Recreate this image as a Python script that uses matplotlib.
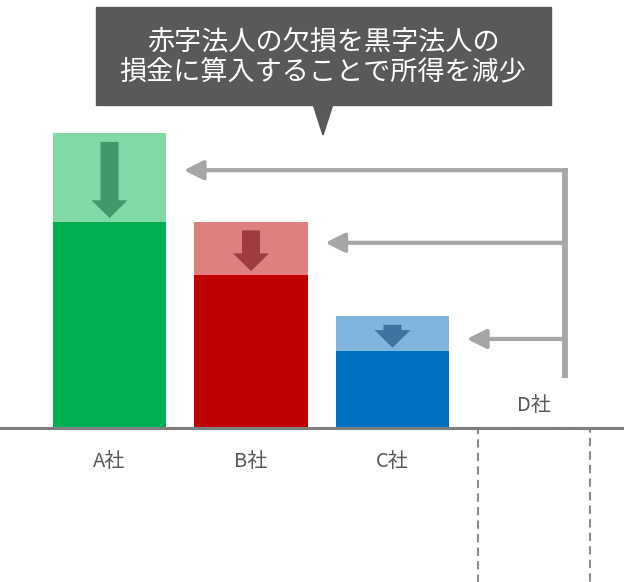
import matplotlib.pyplot as plt
from matplotlib.patches import Rectangle, Polygon
import numpy as np

plt.rcParams['font.family'] = ['Noto Sans CJK JP', 'DejaVu Sans']

# data (arbitrary units)
companies = ['A社', 'B社', 'C社', 'D社']
income_before = [100, 70, 38]   # before offsetting
income_after = [70, 52, 26]     # after offsetting D's loss
loss_d = -60                    # D social loss
callout = '赤字法人の欠損を黒字法人の\n損金に算入することで所得を減少'

dark = ['#00b050', '#c00000', '#0070c0']
light = ['#81d9a7', '#df8080', '#80b6de']
arrow_c = ['#41996a', '#9e3c3f', '#3f73a0']
gray = '#a6a6a6'
txt_c = '#595959'

fig = plt.figure(figsize=(6.24, 5.82), dpi=100)
ax = fig.add_axes([0, 0, 1, 1])
ax.set_xlim(-0.774, 3.636)
ax.set_ylim(-52.2, 145.1)
ax.axis('off')

x = np.arange(len(income_before))
w = 0.8
ax.bar(x, income_before, width=w, color=light, zorder=1)
ax.bar(x, income_after, width=w, color=dark, zorder=2)
ax.bar(3, loss_d, width=0.79, fill=False, edgecolor='#8c8c8c',
       linestyle=(0, (4, 2.5)), linewidth=1.5, zorder=1)

# down arrows inside the reduced part
for i in x:
    start = income_before[i] - 3
    end = income_after[i] + 1.2
    ax.arrow(i, start, 0, end - start, width=0.127, head_width=0.254,
             head_length=6, length_includes_head=True, color=arrow_c[i],
             lw=0, zorder=3)

# arrows from D to A, B, C (height inside the reduced part)
xconn = 3 + 0.22
frac = [0.58, 0.6, 0.35]
ys = [a + f * (b - a) for b, a, f in zip(income_before, income_after, frac)]
for i in x:
    ax.annotate('', xy=(i + w / 2 + 0.125, ys[i]), xytext=(xconn, ys[i]),
                arrowprops=dict(arrowstyle='-|>,head_length=0.58,head_width=0.29',
                                color=gray, lw=3, mutation_scale=20,
                                shrinkA=0, shrinkB=0), zorder=3)
ax.plot([xconn, xconn], [ys[0] + 0.6, 17], color=gray, lw=4.2,
        solid_capstyle='butt', zorder=3)

# baseline
ax.axhline(0, color='#808080', lw=2.2, zorder=4)

# labels
for i, name in enumerate(companies):
    yl = -11.5 if i < 3 else 7.5
    ax.text(i, yl, name, ha='center', va='center', fontsize=14.5, color=txt_c)

# callout box
W, H = 624, 582
fig.patches.append(Rectangle((96 / W, 1 - 105 / H), 455 / W, 98 / H,
                             transform=fig.transFigure, color='#595959'))
fig.patches.append(Polygon([(313 / W, 1 - 104 / H), (333 / W, 1 - 104 / H),
                            (323 / W, 1 - 135 / H)], closed=True,
                           transform=fig.transFigure, color='#595959'))
fig.text(323 / W, 1 - 57 / H, callout, ha='center', va='center',
         fontsize=19.5, color='white', linespacing=1.12)

fig.savefig('out.png', dpi=100)
